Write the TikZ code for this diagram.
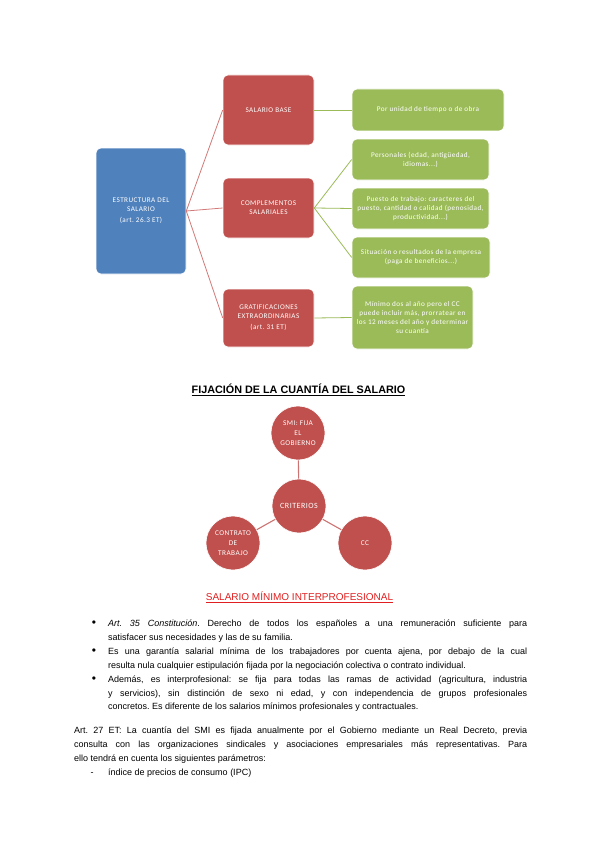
\documentclass[tikz,border=0pt]{standalone}
\usepackage{fontspec}
\setmainfont{Liberation Sans}
\newfontfamily\carl[LetterSpace=6]{Carlito}
\definecolor{sblue}{HTML}{4F81BD}
\definecolor{sred}{HTML}{C0504D}
\definecolor{sgreen}{HTML}{9BBB59}
\definecolor{redline}{HTML}{D27A78}
\definecolor{smired}{HTML}{E02020}
\frenchspacing
\tikzset{
  sbox/.style={rounded corners=5pt, draw=white, line width=0.6pt, text=white,
    font=\carl\fontsize{7.2}{9}\selectfont, align=center, inner sep=1pt},
  bluebox/.style={sbox, fill=sblue},
  redbox/.style={sbox, fill=sred},
  greenbox/.style={sbox, fill=sgreen},
  redconn/.style={draw=redline, line width=0.8pt},
  greenconn/.style={draw=sgreen, line width=0.8pt},
  circ/.style={circle, fill=sred, draw=white, line width=0.6pt, text=white,
    font=\carl\fontsize{7.3}{10}\selectfont, align=center, inner sep=0pt, minimum size=54pt},
  circconn/.style={draw=sred!80, line width=1.1pt},
  bodyline/.style={anchor=base west, inner sep=0pt, font=\fontsize{9}{11}\selectfont},
  bulletmark/.style={anchor=base, inner sep=0pt, font=\fontsize{9}{11}\selectfont}
}
\begin{document}
\begin{tikzpicture}[x=1pt,y=-1pt]
\useasboundingbox (0,0) rectangle (600,848);
\fill[white] (0,0) rectangle (600,848);

% --- structure diagram ---
\node[bluebox, minimum width=90pt, minimum height=126pt] (est) at (141,211)
  {ESTRUCTURA DEL\\SALARIO\\[2pt](art. 26.3 ET)};
\node[redbox, minimum width=91pt, minimum height=70pt] (base) at (268.5,110) {SALARIO BASE};
\node[redbox, minimum width=91pt, minimum height=60pt] (comp) at (268.5,208) {COMPLEMENTOS\\SALARIALES};
\node[redbox, minimum width=91pt, minimum height=58pt] (grat) at (268.5,318)
  {GRATIFICACIONES\\EXTRAORDINARIAS\\[2pt](art. 31 ET)};

\node[greenbox, minimum width=152pt, minimum height=42pt] (g1) at (428,110) {Por unidad de tiempo o de obra};
\node[greenbox, minimum width=137pt, minimum height=41pt] (g2) at (420.5,159.5) {Personales (edad, antigüedad,\\idiomas...)};
\node[greenbox, minimum width=137pt, minimum height=41pt] (g3) at (420.5,208.5) {Puesto de trabajo: caracteres del\\puesto, cantidad o calidad (penosidad,\\productividad...)};
\node[greenbox, minimum width=138pt, minimum height=41pt] (g4) at (421,257.5) {Situación o resultados de la empresa\\(paga de beneficios...)};
\node[greenbox, minimum width=121pt, minimum height=63pt] (g5) at (412.5,317.5) {Mínimo dos al año pero el CC\\puede incluir más, prorratear en\\los 12 meses del año y determinar\\su cuantía};

\draw[redconn] (est.east) -- (base.west);
\draw[redconn] (est.east) -- (comp.west);
\draw[redconn] (est.east) -- (grat.west);
\draw[greenconn] (base.east) -- (g1.west);
\draw[greenconn] (comp.east) -- (g2.west);
\draw[greenconn] (comp.east) -- (g3.west);
\draw[greenconn] (comp.east) -- (g4.west);
\draw[greenconn] (grat.east) -- (g5.west);

% --- title ---
\node[inner sep=0pt, font=\bfseries\fontsize{10.8}{12}\selectfont] (t1) at (298.5,390) {\underline{FIJACIÓN DE LA CUANTÍA DEL SALARIO}};

% --- circles ---
\node[circ] (smi) at (298,433) {SMI: FIJA\\EL\\GOBIERNO};
\node[circ] (crit) at (299,506) {\fontsize{8}{9}\selectfont CRITERIOS};
\node[circ] (con) at (233,543) {CONTRATO\\DE\\TRABAJO};
\node[circ] (cc) at (365,543) {CC};
\draw[circconn] (smi) -- (crit);
\draw[circconn] (crit) -- (con);
\draw[circconn] (crit) -- (cc);

% --- SMI heading ---
\node[inner sep=0pt, text=smired, font=\fontsize{10}{11}\selectfont] (t2) at (299.5,597) {\underline{SALARIO MÍNIMO INTERPROFESIONAL}};

% --- bullets ---
\node[bulletmark] (b1) at (94,626.5) {\fontsize{12}{12}\selectfont\textbullet};
\node[bulletmark] (b2) at (94,654.5) {\fontsize{12}{12}\selectfont\textbullet};
\node[bulletmark] (b3) at (94,682.5) {\fontsize{12}{12}\selectfont\textbullet};
\node[bodyline] (l1) at (108,626.5) {\makebox[419pt][s]{\textit{Art. 35 Constitución}. Derecho de todos los españoles a una remuneración suficiente para}};
\node[bodyline] (l2) at (108,640.5) {satisfacer sus necesidades y las de su familia.};
\node[bodyline] (l3) at (108,654.5) {\makebox[419pt][s]{Es una garantía salarial mínima de los trabajadores por cuenta ajena, por debajo de la cual}};
\node[bodyline] (l4) at (108,668.5) {resulta nula cualquier estipulación fijada por la negociación colectiva o contrato individual.};
\node[bodyline] (l5) at (108,682.5) {\makebox[419pt][s]{Además, es interprofesional: se fija para todas las ramas de actividad (agricultura, industria}};
\node[bodyline] (l6) at (108,696) {\makebox[419pt][s]{y servicios), sin distinción de sexo ni edad, y con independencia de grupos profesionales}};
\node[bodyline] (l7) at (108,709.5) {concretos. Es diferente de los salarios mínimos profesionales y contractuales.};

\node[bodyline] (p1) at (74,733.5) {\makebox[453pt][s]{Art. 27 ET: La cuantía del SMI es fijada anualmente por el Gobierno mediante un Real Decreto, previa}};
\node[bodyline] (p2) at (74,747.5) {\makebox[453pt][s]{consulta con las organizaciones sindicales y asociaciones empresariales más representativas. Para}};
\node[bodyline] (p3) at (74,761.5) {ello tendrá en cuenta los siguientes parámetros:};
\node[bulletmark] (d1) at (92,775.5) {-};
\node[bodyline] (p4) at (108,775.5) {índice de precios de consumo (IPC)};
\end{tikzpicture}
\end{document}
